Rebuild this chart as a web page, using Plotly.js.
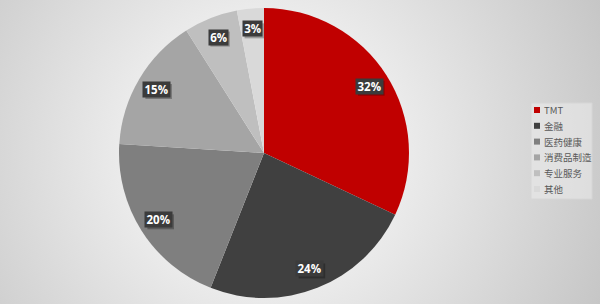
<!DOCTYPE html>
<html>
<head>
<meta charset="utf-8">
<script src="https://cdn.plot.ly/plotly-3.0.1.min.js"></script>
<style>
  html, body { margin: 0; padding: 0; }
  #chart {
    width: 600px; height: 304px;
    background: radial-gradient(circle farthest-corner at 44% 50%, #ffffff 0%, #f0f0f0 30%, #c6c6c6 100%);
  }
</style>
</head>
<body>
<div id="chart"></div>
<script>
// Sector share of deals (%)
const categories = ['TMT', '金融', '医药健康', '消费品制造', '专业服务', '其他'];
const shares = [32, 24, 20, 15, 6, 3];
const shareLabels = ['32%', '24%', '20%', '15%', '6%', '3%'];
const colors = ['#c00000', '#404040', '#7f7f7f', '#a5a5a5', '#bfbfbf', '#d9d9d9'];

const W = 600, H = 304;
const cx = 264, cy = 153, R = 145;      // pie centre and radius in px
const labelR = 0.86 * R;                 // radius at which value boxes sit

const trace = {
  type: 'pie',
  labels: categories,
  values: shares,
  sort: false,
  direction: 'clockwise',
  rotation: 0,
  textinfo: 'none',
  hoverinfo: 'label+percent',
  marker: { colors: colors, line: { width: 0 } },
  domain: { x: [(cx - R) / W, (cx + R) / W], y: [(H - cy - R) / H, (H - cy + R) / H] },
  showlegend: false
};

const total = shares.reduce((a, b) => a + b, 0);
const annotations = [];
const shapes = [];

// value boxes placed at each slice's mid-angle, each with a soft drop shadow
let cum = 0;
shares.forEach((v, i) => {
  const theta = (cum + v / 2) / total * 2 * Math.PI;
  cum += v;
  const px = cx + labelR * Math.sin(theta);
  const py = cy - labelR * Math.cos(theta);
  const bw = 7.2 * shareLabels[i].length + 5, bh = 15;
  shapes.push({
    type: 'rect', xref: 'paper', yref: 'paper',
    x0: (px - bw / 2 + 2) / W, x1: (px + bw / 2 + 2) / W,
    y0: 1 - (py + bh / 2 + 2) / H, y1: 1 - (py - bh / 2 + 2) / H,
    fillcolor: 'rgba(0,0,0,0.28)', line: { width: 0 }
  });
  annotations.push({
    xref: 'paper', yref: 'paper', x: px / W, y: 1 - py / H,
    xanchor: 'center', yanchor: 'middle', showarrow: false,
    text: '<b>' + shareLabels[i] + '</b>',
    width: bw, height: bh, borderpad: 0,
    bgcolor: '#3b3b3b',
    font: { family: 'Open Sans, DejaVu Sans, sans-serif', size: 11.5, color: '#ffffff' }
  });
});

// legend panel
const lgLeft = 531, lgTop = 103, lgRight = 592, lgBottom = 199;
const itemTop = 110, itemStep = 15.8;
shapes.push({
  type: 'rect', xref: 'paper', yref: 'paper',
  x0: lgLeft / W, x1: lgRight / W, y0: 1 - lgBottom / H, y1: 1 - lgTop / H,
  fillcolor: 'rgba(236,236,236,0.55)', line: { color: '#d6d6d6', width: 1 }
});
categories.forEach((name, i) => {
  const yc = itemTop + i * itemStep;
  shapes.push({
    type: 'rect', xref: 'paper', yref: 'paper',
    x0: 534 / W, x1: 540 / W, y0: 1 - (yc + 3) / H, y1: 1 - (yc - 3) / H,
    fillcolor: colors[i], line: { width: 0 }
  });
  annotations.push({
    xref: 'paper', yref: 'paper', x: 542 / W, y: 1 - yc / H,
    xanchor: 'left', yanchor: 'middle', showarrow: false,
    text: name,
    font: { family: 'Noto Sans CJK SC, sans-serif', size: 9.5, color: '#595959' }
  });
});

const layout = {
  width: W, height: H,
  margin: { l: 0, r: 0, t: 0, b: 0 },
  paper_bgcolor: 'rgba(0,0,0,0)',
  plot_bgcolor: 'rgba(0,0,0,0)',
  showlegend: false,
  annotations: annotations,
  shapes: shapes
};

Plotly.newPlot('chart', [trace], layout, { displayModeBar: false, staticPlot: true });
</script>
</body>
</html>
